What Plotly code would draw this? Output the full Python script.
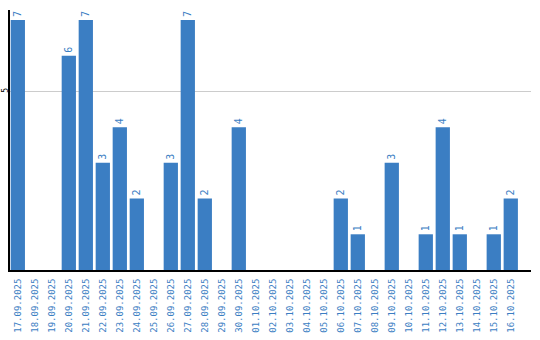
import plotly.graph_objects as go

dates = ["17.09.2025", "18.09.2025", "19.09.2025", "20.09.2025", "21.09.2025",
         "22.09.2025", "23.09.2025", "24.09.2025", "25.09.2025", "26.09.2025",
         "27.09.2025", "28.09.2025", "29.09.2025", "30.09.2025", "01.10.2025",
         "02.10.2025", "03.10.2025", "04.10.2025", "05.10.2025", "06.10.2025",
         "07.10.2025", "08.10.2025", "09.10.2025", "10.10.2025", "11.10.2025",
         "12.10.2025", "13.10.2025", "14.10.2025", "15.10.2025", "16.10.2025"]
counts = [7, 0, 0, 6, 7, 3, 4, 2, 0, 3, 7, 2, 0, 4, 0,
          0, 0, 0, 0, 2, 1, 0, 3, 0, 1, 4, 1, 0, 1, 2]
y_ticks = [5]

blue = "#3b7ec3"
labels = [str(v) if v > 0 else "" for v in counts]

fig = go.Figure(go.Bar(
    x=dates, y=counts, marker_color=blue, marker_line_width=0,
    text=labels, textposition="outside", textangle=-90,
    textfont=dict(family="DejaVu Sans Mono", size=10, color=blue),
    cliponaxis=False,
))

fig.update_layout(
    width=540, height=340,
    margin=dict(l=10, r=9, t=10, b=70),
    paper_bgcolor="white", plot_bgcolor="white",
    bargap=0.16, showlegend=False,
)
fig.update_xaxes(
    type="category", range=[-0.46, 30.19], automargin=False,
    tickangle=-90, tickfont=dict(family="DejaVu Sans Mono", size=9, color=blue),
    showline=True, linecolor="black", linewidth=2, ticks="", showgrid=False,
    ticklabelstandoff=3,
)
fig.update_yaxes(
    range=[0, 7.28], tickvals=y_ticks, tickangle=-90, automargin=False,
    tickfont=dict(family="DejaVu Sans Mono", size=8, color="black"),
    showline=True, linecolor="black", linewidth=2, ticks="",
    showgrid=True, gridcolor="#cccccc", gridwidth=1, zeroline=False,
    ticklabelstandoff=-3,
)

fig.write_html("out.html")
